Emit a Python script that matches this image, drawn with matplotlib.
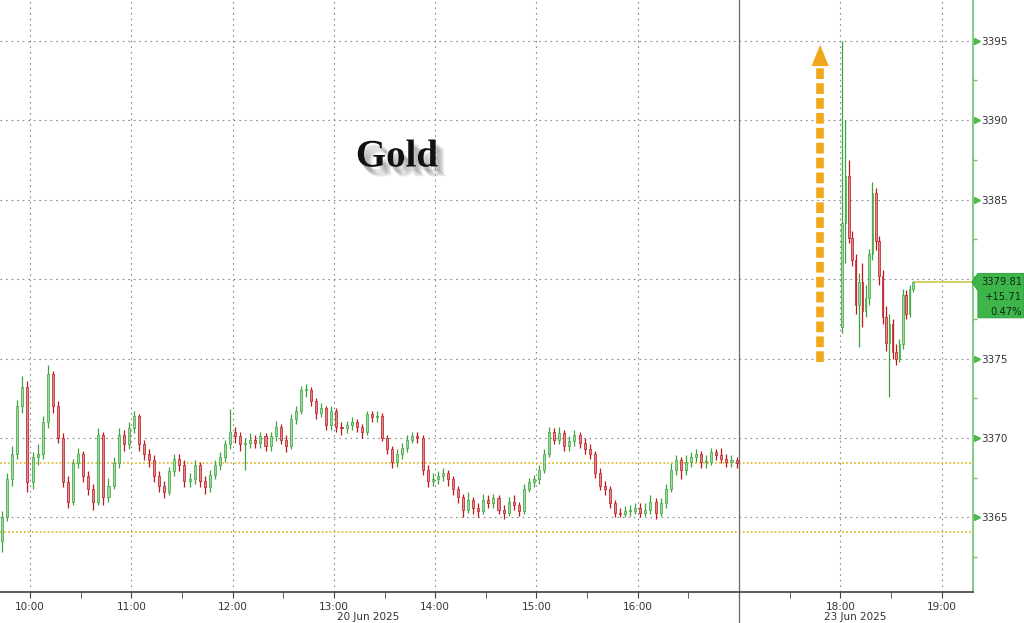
import numpy as np
import matplotlib.pyplot as plt
from matplotlib.patches import Polygon
import matplotlib.patheffects as pe
from matplotlib.transforms import blended_transform_factory

# Gold, 3-min bars on Fri 20 Jun (from 09:42), 2-min bars on Mon 23 Jun (from 18:00)
fri_first_open = 3363.5
fri_close = [
    3365.0, 3367.4, 3369.0, 3372.0, 3373.2, 3367.2, 3368.8, 3369.0, 3371.0, 3374.0,
    3372.0, 3370.0, 3367.2, 3366.0, 3368.4, 3369.0, 3367.6, 3366.8, 3366.0, 3370.2,
    3366.3, 3367.0, 3368.4, 3370.2, 3369.6, 3370.6, 3371.4, 3369.6, 3369.0, 3368.6,
    3367.6, 3367.0, 3366.6, 3367.9, 3368.7, 3368.3, 3367.3, 3367.4, 3368.3, 3367.3,
    3366.9, 3367.7, 3368.3, 3368.8, 3369.6, 3370.4, 3370.1, 3369.6, 3369.7, 3369.9,
    3369.7, 3370.1, 3369.5, 3370.1, 3370.7, 3369.9, 3369.5, 3371.2, 3371.7, 3373.0,
    3373.0, 3372.3, 3371.6, 3371.9, 3370.8, 3371.7, 3370.7, 3370.6, 3370.8, 3371.0,
    3370.7, 3370.4, 3371.5, 3371.3, 3371.4, 3370.0, 3369.3, 3368.5, 3369.0, 3369.4,
    3369.9, 3370.1, 3370.0, 3368.0, 3367.3, 3367.4, 3367.6, 3367.8, 3367.4, 3366.8,
    3366.3, 3365.5, 3366.1, 3365.6, 3365.4, 3366.1, 3365.9, 3366.2, 3365.5, 3365.3,
    3366.0, 3365.8, 3365.4, 3366.8, 3367.2, 3367.4, 3368.0, 3369.0, 3370.4, 3369.9,
    3370.3, 3369.5, 3369.8, 3370.2, 3369.7, 3369.3, 3369.0, 3367.8, 3367.0, 3366.8,
    3365.9, 3365.3, 3365.2, 3365.4, 3365.4, 3365.6, 3365.3, 3365.5, 3366.0, 3365.3,
    3365.9, 3366.8, 3368.0, 3368.6, 3368.0, 3368.5, 3368.8, 3369.0, 3368.5, 3368.5,
    3369.1, 3368.9, 3368.7, 3368.5, 3368.6, 3368.4]
fri_high = [
    3365.4, 3367.8, 3369.5, 3372.4, 3373.9, 3373.6, 3369.1, 3369.6, 3371.4, 3374.6,
    3374.2, 3372.3, 3370.3, 3367.6, 3368.7, 3369.4, 3369.2, 3367.9, 3367.1, 3370.6,
    3370.4, 3367.5, 3368.8, 3370.6, 3370.5, 3371.0, 3371.7, 3371.5, 3369.9, 3369.3,
    3368.9, 3367.9, 3367.3, 3368.2, 3369.0, 3369.0, 3368.6, 3367.8, 3368.6, 3368.5,
    3367.6, 3368.0, 3368.6, 3369.1, 3369.9, 3371.8, 3370.7, 3370.4, 3370.0, 3370.3,
    3370.2, 3370.4, 3370.3, 3370.4, 3371.1, 3370.9, 3370.2, 3371.5, 3372.0, 3373.3,
    3373.4, 3373.2, 3372.5, 3372.2, 3372.0, 3372.0, 3371.9, 3371.0, 3371.1, 3371.3,
    3371.2, 3370.9, 3371.7, 3371.7, 3371.7, 3371.6, 3370.2, 3369.5, 3369.3, 3369.7,
    3370.2, 3370.4, 3370.4, 3370.2, 3368.3, 3367.8, 3367.9, 3368.1, 3368.0, 3367.6,
    3367.0, 3366.5, 3366.6, 3366.3, 3365.9, 3366.5, 3366.4, 3366.5, 3366.4, 3365.8,
    3366.3, 3366.4, 3366.0, 3367.1, 3367.5, 3367.7, 3368.3, 3369.3, 3370.7, 3370.6,
    3370.7, 3370.5, 3370.1, 3370.5, 3370.4, 3370.0, 3369.6, 3369.2, 3368.1, 3367.3,
    3367.0, 3366.1, 3365.6, 3365.7, 3365.8, 3365.9, 3365.9, 3365.9, 3366.4, 3366.2,
    3366.2, 3367.1, 3368.4, 3368.9, 3368.8, 3368.9, 3369.1, 3369.3, 3369.2, 3368.9,
    3369.4, 3369.3, 3369.4, 3369.0, 3368.9, 3368.8]
fri_low = [
    3362.8, 3364.8, 3367.0, 3368.7, 3371.6, 3366.6, 3366.8, 3368.3, 3368.7, 3370.6,
    3371.6, 3369.7, 3366.9, 3365.6, 3365.8, 3368.1, 3367.2, 3366.4, 3365.5, 3365.8,
    3365.8, 3366.0, 3366.8, 3368.1, 3369.2, 3369.3, 3370.3, 3369.2, 3368.6, 3368.2,
    3367.2, 3366.6, 3366.2, 3366.4, 3367.6, 3367.9, 3366.9, 3366.9, 3367.1, 3366.9,
    3366.5, 3366.6, 3367.4, 3368.0, 3368.5, 3369.3, 3369.7, 3369.2, 3368.0, 3369.4,
    3369.4, 3369.4, 3369.2, 3369.2, 3369.8, 3369.6, 3369.1, 3369.3, 3370.9, 3371.5,
    3372.6, 3372.0, 3371.2, 3371.3, 3370.5, 3370.5, 3370.4, 3370.2, 3370.3, 3370.5,
    3370.4, 3370.0, 3370.2, 3371.0, 3371.0, 3369.8, 3369.0, 3368.1, 3368.2, 3368.7,
    3369.1, 3369.7, 3369.7, 3367.7, 3366.9, 3367.0, 3367.1, 3367.3, 3367.0, 3366.4,
    3365.9, 3365.0, 3365.3, 3365.2, 3365.0, 3365.2, 3365.6, 3365.6, 3365.2, 3364.9,
    3365.1, 3365.5, 3365.1, 3365.2, 3366.6, 3366.9, 3367.1, 3367.8, 3368.8, 3369.6,
    3369.6, 3369.2, 3369.2, 3369.5, 3369.4, 3369.0, 3368.7, 3367.5, 3366.7, 3366.4,
    3365.6, 3365.0, 3365.0, 3365.0, 3365.1, 3365.2, 3365.0, 3365.1, 3365.2, 3364.9,
    3365.1, 3365.6, 3366.6, 3367.7, 3367.4, 3367.7, 3368.2, 3368.5, 3368.1, 3368.1,
    3368.3, 3368.6, 3368.4, 3368.2, 3368.2, 3368.1]

mon_open = [3377.0, 3383.5, 3386.5, 3382.6, 3381.2, 3378.4, 3379.8, 3378.0, 3378.8, 3381.6, 3385.4,
            3382.4, 3380.2, 3377.6, 3376.0, 3377.2, 3375.4, 3375.0, 3375.9, 3379.0, 3377.8, 3379.4]
mon_high = [3395.0, 3390.0, 3387.5, 3383.0, 3381.6, 3380.4, 3381.0, 3379.6, 3381.9, 3386.1, 3385.7,
            3382.7, 3380.6, 3378.3, 3377.8, 3377.5, 3375.9, 3376.2, 3379.4, 3379.3, 3379.6, 3379.9]
mon_low = [3376.6, 3381.0, 3382.3, 3380.8, 3377.8, 3375.7, 3377.0, 3377.6, 3378.4, 3381.2, 3381.8,
           3379.6, 3377.2, 3375.5, 3372.6, 3375.0, 3374.6, 3374.8, 3375.6, 3377.5, 3377.6, 3379.2]
mon_close = [3383.5, 3386.5, 3382.6, 3381.2, 3378.4, 3379.8, 3378.0, 3378.8, 3381.6, 3385.4, 3382.4,
             3380.2, 3377.6, 3376.0, 3377.2, 3375.4, 3375.0, 3375.9, 3379.0, 3377.8, 3379.4, 3379.81]

levels = [3368.45, 3364.10]   # yellow dotted reference lines
last_px = 3379.81
chg_txt = ["3379.81", "+15.71", "0.47%"]
hour_ticks = [10, 11, 12, 13, 14, 15, 16, 17, 18, 19]
hour_labels = ["10:00", "11:00", "12:00", "13:00", "14:00", "15:00", "16:00", "", "18:00", "19:00"]
price_ticks = [3365, 3370, 3375, 3380, 3385, 3390, 3395]
price_labels = ["3365", "3370", "3375", "", "3385", "3390", "3395"]
date_labels = ["20 Jun 2025", "23 Jun 2025"]
date_pos = [13.34, 18.15]

X0, X1 = 9.704, 19.309
Y0, Y1 = 3360.31, 3397.56

W, H = 1024, 623
fig = plt.figure(figsize=(W / 100, H / 100), dpi=100)
ax = fig.add_axes([0, 1 - 592 / H, 973 / W, 592 / H])

# grid
dot = (0, (1.5, 3.5))
ax.vlines([h for h in hour_ticks if h != 17], Y0, Y1, colors="#8a8a8a", lw=0.8, linestyles=[dot], zorder=1)
ax.hlines(price_ticks, X0, X1, colors="#8a8a8a", lw=0.8, linestyles=[dot], zorder=1)
ax.hlines(levels, X0, X1, colors="#e2bd3a", lw=1.3, linestyles=[(0, (1, 1.2))], zorder=2)

# session separator
ax.axvline(17, color="#6a6a6a", lw=0.9, zorder=2)
ax.plot([17, 17], [0, -0.06], transform=blended_transform_factory(ax.transData, ax.transAxes),
        color="#6a6a6a", lw=0.9, clip_on=False)


def candles(t, o, h, l, c, w):
    t, o, h, l, c = map(np.asarray, (t, o, h, l, c))
    up = c >= o
    for m, wick, fill in [(up, "#3aa53a", "#9fd99f"), (~up, "#c0161b", "#d68e8e")]:
        ax.vlines(t[m], l[m], h[m], colors=wick, lw=0.9, zorder=3)
        ax.bar(t[m], np.maximum(np.abs(c[m] - o[m]), 0.08), bottom=np.minimum(o[m], c[m]), width=w,
               color=fill, edgecolor=wick, lw=0.5, zorder=4)


fri_open = [fri_first_open] + fri_close[:-1]
fri_t = 9.7 + (np.arange(len(fri_close)) * 3 + 1.5) / 60
mon_t = 18.0 + (np.arange(len(mon_close)) * 2 + 1) / 60
candles(fri_t, fri_open, fri_high, fri_low, fri_close, 1.2 / 60)
candles(mon_t, mon_open, mon_high, mon_low, mon_close, 0.9 / 60)

# last price line
ax.plot([mon_t[-1] + 1 / 60, X1], [last_px, last_px], color="#c9c23a", lw=1.1, zorder=3)

# axes styling
for s in ["top", "left"]:
    ax.spines[s].set_visible(False)
ax.spines["right"].set_color("#6cc46c")
ax.spines["right"].set_linewidth(1.2)
ax.spines["bottom"].set_color("#404040")
ax.spines["bottom"].set_linewidth(1.2)

ax.yaxis.tick_right()
ax.set_yticks(price_ticks)
ax.set_yticks([p + 2.5 for p in price_ticks[:-1]] + [3362.5], minor=True)
ax.set_yticklabels(price_labels)
ax.tick_params(axis="y", which="major", length=0, pad=6, labelsize=7.5, labelcolor="#333333")
ax.tick_params(axis="y", which="minor", length=3, width=1, color="#6cc46c", direction="out")
yb = blended_transform_factory(ax.transAxes, ax.transData)
ax.plot([1.004] * len(price_ticks), price_ticks, transform=yb, ls="none", marker=">", ms=4,
        color="#4db84d", clip_on=False)

ax.set_xticks(hour_ticks)
ax.set_xticklabels(hour_labels)
ax.set_xticks([h + 0.5 for h in range(10, 19)], minor=True)
ax.tick_params(axis="x", which="major", length=4, color="#404040", pad=3, labelsize=7.5, labelcolor="#333333")
ax.tick_params(axis="x", which="minor", length=4, color="#404040")
for d, x in zip(date_labels, date_pos):
    ax.text(x, -0.042, d, transform=blended_transform_factory(ax.transData, ax.transAxes),
            ha="center", va="center", fontsize=7.5, color="#333333")

ax.set_xlim(X0, X1)
ax.set_ylim(Y0, Y1)

# price tag
bx0, bx1, tip = 1.005, 1024 / 973, 0.999
tag = Polygon([(tip, last_px), (bx0, last_px + 0.55), (bx1, last_px + 0.55),
               (bx1, last_px - 2.25), (bx0, last_px - 2.25), (bx0, last_px - 0.55)],
              closed=True, transform=yb, facecolor="#3db54a", edgecolor="#2f9a3c", lw=0.6,
              clip_on=False, zorder=5)
ax.add_patch(tag)
for k, s in enumerate(chg_txt):
    ax.text(1.0505, last_px - 0.95 * k, s, transform=yb, ha="right", va="center",
            fontsize=7.2, color="#142814", zorder=6, clip_on=False)

# orange dashed arrow
xa = 17.80
ax.plot([xa, xa], [3374.8, 3393.5], color="#f2a81d", lw=5.5, dashes=(1.4, 0.55),
        solid_capstyle="butt", zorder=5)
ax.add_patch(Polygon([(xa - 0.085, 3393.4), (xa + 0.085, 3393.4), (xa, 3394.75)],
                     closed=True, facecolor="#f2a81d", edgecolor="none", zorder=5))

# title
shadow = [pe.SimplePatchShadow(offset=(o, -o - 1), shadow_rgbFace="#777777", alpha=0.16)
          for o in (2, 3, 4, 5, 6)]
fig.text(397 / W, 1 - 157 / H, "Gold", ha="center", va="center", fontsize=28,
         family=["Liberation Serif", "DejaVu Serif"], weight="bold", color="#111111",
         path_effects=shadow + [pe.Normal()])

fig.savefig("out.png", dpi=100)
